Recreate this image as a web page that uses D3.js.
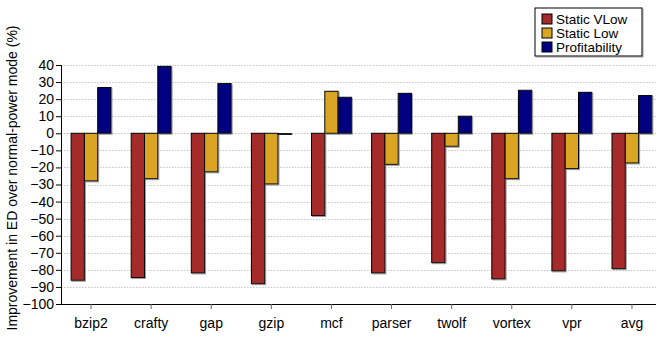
<!DOCTYPE html>
<html>
<head>
<meta charset="utf-8">
<script src="https://cdn.jsdelivr.net/npm/d3@7"></script>
<style>
  html, body { margin: 0; padding: 0; background: #fff; }
  svg { display: block; font-family: "Liberation Sans", Arial, sans-serif; }
</style>
</head>
<body>
<svg id="chart" width="656" height="342"></svg>
<script>
// Benchmarks on the x axis
const categories = ["bzip2", "crafty", "gap", "gzip", "mcf", "parser", "twolf", "vortex", "vpr", "avg"];
// Improvement in ED (%) per benchmark, one array per configuration
const staticVLow     = [-86.1, -84.5, -81.8, -88.1, -48.2, -81.8, -75.8, -85.3, -80.6, -79.3];
const staticLow      = [-27.9, -26.6, -22.6, -29.7, 24.6, -18.2, -7.6, -26.6, -20.7, -17.4];
const profitability  = [26.8, 39.2, 29.1, -0.8, 21.1, 23.4, 10.0, 25.2, 24.0, 22.1];
const seriesNames    = ["Static VLow", "Static Low", "Profitability"];
const seriesColors   = ["#a52a2a", "#daa520", "#000080"];
const yTicks         = [40, 30, 20, 10, 0, -10, -20, -30, -40, -50, -60, -70, -80, -90, -100];

const series = [staticVLow, staticLow, profitability];

const svg = d3.select("#chart");
const W = 656, H = 342;
const plot = { left: 61, right: 662, top: 65, bottom: 304 };

const x = d3.scaleBand().domain(categories).range([plot.left, plot.right]).paddingInner(0).paddingOuter(0);
const barW = 13.3;
const y = d3.scaleLinear().domain([-100, 40]).range([plot.bottom, plot.top]);

// drop shadow used by bars and legend box
const defs = svg.append("defs");
const f = defs.append("filter").attr("id", "shadow").attr("x", "-20%").attr("y", "-20%").attr("width", "140%").attr("height", "140%");
f.append("feDropShadow").attr("dx", 1).attr("dy", 1).attr("stdDeviation", 0.6).attr("flood-color", "#888").attr("flood-opacity", 0.8);

// dotted grid
svg.append("g").selectAll("line")
  .data(yTicks.filter(t => t > -100))
  .join("line")
  .attr("x1", plot.left).attr("x2", W)
  .attr("y1", d => Math.round(y(d)) + 0.5).attr("y2", d => Math.round(y(d)) + 0.5)
  .attr("stroke", "#c4c4c4").attr("stroke-width", 1).attr("stroke-dasharray", "1.5,1.5");

// bars
const groups = svg.append("g").selectAll("g")
  .data(categories)
  .join("g")
  .attr("transform", d => `translate(${x(d) + x.bandwidth() / 2 - 1.5 * barW},0)`);

series.forEach((vals, si) => {
  groups.append("rect")
    .attr("x", si * barW)
    .attr("y", (d, i) => y(Math.max(0, vals[i])))
    .attr("width", barW)
    .attr("height", (d, i) => Math.abs(y(vals[i]) - y(0)))
    .attr("fill", seriesColors[si])
    .attr("stroke", "#000").attr("stroke-width", 1)
    .attr("filter", "url(#shadow)");
});

// y axis
const yAxis = d3.axisLeft(y).tickValues(yTicks).tickSize(5).tickPadding(2).tickFormat(d3.format("d"));
const gy = svg.append("g").attr("transform", `translate(${plot.left},0)`).call(yAxis);
gy.select(".domain").attr("stroke", "#000").attr("d", `M0.5,${plot.top}V${plot.bottom}`);
gy.selectAll(".tick line").attr("stroke", "#000");
gy.selectAll(".tick text").attr("font-size", 14).attr("fill", "#000")
  .attr("font-family", "'Liberation Sans', Arial, sans-serif");

// x axis
const xAxis = d3.axisBottom(x).tickSize(5).tickPadding(9);
const gx = svg.append("g").attr("transform", `translate(0,${plot.bottom})`).call(xAxis);
gx.select(".domain").attr("stroke", "#000").attr("d", `M${plot.left},0.5H${W}`);
gx.selectAll(".tick line").attr("stroke", "#666");
gx.selectAll(".tick text").attr("font-size", 14).attr("fill", "#000")
  .attr("font-family", "'Liberation Sans', Arial, sans-serif");

// y axis title
svg.append("text")
  .attr("transform", `translate(17,${(20 + 336) / 2}) rotate(-90)`)
  .attr("text-anchor", "middle")
  .attr("font-size", 14)
  .text("Improvement in ED over normal-power mode (%)");

// legend
const lg = svg.append("g").attr("transform", "translate(535,8)");
lg.append("rect").attr("width", 107).attr("height", 48)
  .attr("fill", "#fff").attr("stroke", "#000").attr("stroke-width", 1)
  .attr("filter", "url(#shadow)");
seriesNames.forEach((name, i) => {
  const row = lg.append("g").attr("transform", `translate(7,${6 + i * 14})`);
  row.append("rect").attr("width", 10).attr("height", 10)
    .attr("fill", seriesColors[i]).attr("stroke", "#000").attr("stroke-width", 1);
  row.append("text").attr("x", 14).attr("y", 10).attr("font-size", 13.5).text(name);
});
</script>
</body>
</html>
